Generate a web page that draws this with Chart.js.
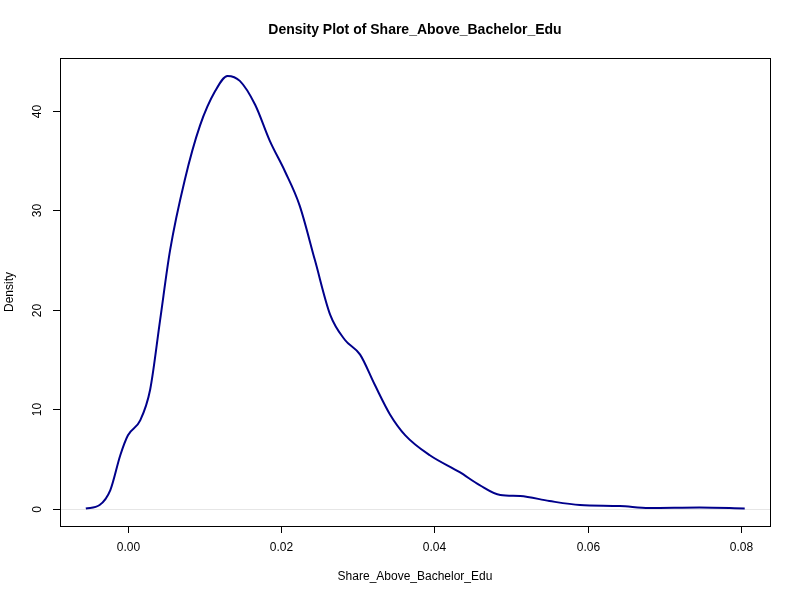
<!DOCTYPE html>
<html><head><meta charset="utf-8">
<script src="https://cdn.jsdelivr.net/npm/chart.js@4"></script>
<style>body{margin:0;background:#fff}#w{width:800px;height:600px}</style>
</head><body><div id="w"><canvas id="c"></canvas></div>
<script>
const xs=[-0.0055,-0.0037,-0.0023,-0.001,0,0.0016,0.0029,0.0042,0.0055,0.0074,0.0094,0.0114,0.013,0.0146,0.0166,0.0185,0.0205,0.0224,0.0244,0.0264,0.0283,0.0303,0.0322,0.0342,0.0362,0.0394,0.0433,0.0459,0.0486,0.0512,0.055,0.059,0.0642,0.068,0.0746,0.0805];
const ys=[0.05,0.4,1.9,5.4,7.4,8.9,12,19,26,33,38.5,42,43.5,43,40.6,37,33.9,30.5,25,19.5,17,15.5,12.5,9.5,7.4,5.4,3.7,2.4,1.4,1.3,0.8,0.4,0.3,0.1,0.15,0.05];
const xTicks=[0,0.02,0.04,0.06,0.08];
const yTicks=[0,10,20,30,40];
const F='"Liberation Sans", Arial, sans-serif';
const deco={id:'deco',afterDraw(ch){
 const c=ch.ctx,a=ch.chartArea,sx=ch.scales.x,sy=ch.scales.y;
 c.save();c.strokeStyle='#000';c.lineWidth=1;c.fillStyle='#000';
 c.strokeRect(a.left+0.5,a.top+0.5,a.right-a.left,a.bottom-a.top);
 c.font='12px '+F;c.textAlign='center';c.textBaseline='top';
 c.beginPath();
 xTicks.forEach(v=>{const p=Math.round(sx.getPixelForValue(v))+0.5;c.moveTo(p,a.bottom);c.lineTo(p,a.bottom+7);c.fillText(v.toFixed(2),p,542);});
 c.moveTo(Math.round(sx.getPixelForValue(xTicks[0]))+0.5,a.bottom+0.5);c.lineTo(Math.round(sx.getPixelForValue(xTicks[xTicks.length-1]))+0.5,a.bottom+0.5);
 yTicks.forEach(v=>{const p=Math.round(sy.getPixelForValue(v))+0.5;c.moveTo(a.left,p);c.lineTo(a.left-7,p);
   c.save();c.translate(38,p);c.rotate(-Math.PI/2);c.textBaseline='middle';c.fillText(String(v),0,0);c.restore();});
 c.moveTo(a.left+0.5,Math.round(sy.getPixelForValue(0))+0.5);c.lineTo(a.left+0.5,Math.round(sy.getPixelForValue(40))+0.5);
 c.stroke();
 c.fillText('Share_Above_Bachelor_Edu',(a.left+a.right)/2,571);
 c.save();c.translate(10,(a.top+a.bottom)/2);c.rotate(-Math.PI/2);c.textBaseline='middle';c.fillText('Density',0,0);c.restore();
 c.font='bold 14px '+F;c.textBaseline='middle';c.fillText('Density Plot of Share_Above_Bachelor_Edu',(a.left+a.right)/2,30);
 c.restore();},
 beforeDatasetsDraw(ch){const c=ch.ctx,a=ch.chartArea,y=Math.round(ch.scales.y.getPixelForValue(0))+0.5;
 c.save();c.strokeStyle='#e6e6e6';c.beginPath();c.moveTo(a.left,y);c.lineTo(a.right,y);c.stroke();c.restore();}};
new Chart(document.getElementById('c'),{type:'line',
 data:{datasets:[{data:xs.map((x,i)=>({x,y:ys[i]})),borderColor:'#00008b',borderWidth:2,pointRadius:0,tension:0.4,cubicInterpolationMode:'monotone',fill:false}]},
 options:{responsive:true,maintainAspectRatio:false,animation:false,layout:{padding:{top:58,right:30,left:0,bottom:0}},
  plugins:{legend:{display:false},tooltip:{enabled:false}},
  scales:{x:{type:'linear',min:-0.00887,max:0.0838,grid:{display:false},border:{display:false},ticks:{display:false},afterFit(s){s.height=74;}},
   y:{min:-1.71,max:45.3,grid:{display:false},border:{display:false},ticks:{display:false},afterFit(s){s.width=60;}}}},
 plugins:[deco]});
</script></body></html>
